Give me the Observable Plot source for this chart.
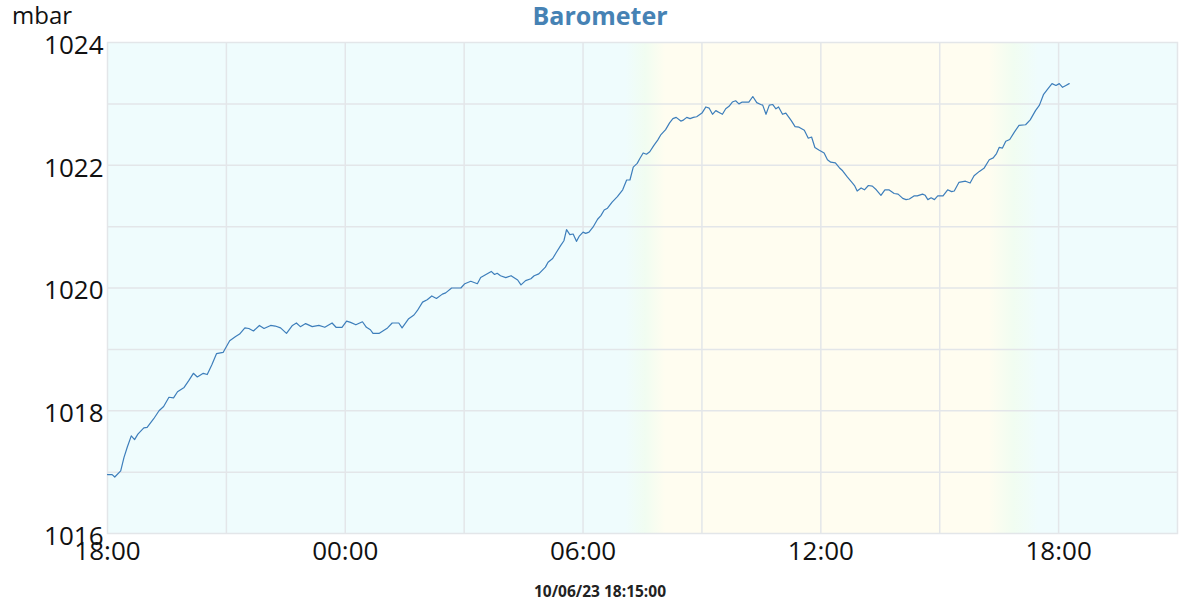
<!DOCTYPE html>
<html><head><meta charset="utf-8">
<script src="https://cdn.jsdelivr.net/npm/d3@7"></script>
<script src="https://cdn.jsdelivr.net/npm/@observablehq/plot@0.6"></script>
<style>
body{margin:0;background:#fff;font-family:"Open Sans",sans-serif;}
#wrap{position:relative;width:1200px;height:600px;overflow:hidden;}
#unit{position:absolute;left:12px;top:0;font-size:24px;line-height:30px;color:#111;}
#title{position:absolute;left:0;width:1200px;top:0;text-align:center;font-size:25px;font-weight:bold;color:#4682b4;line-height:30px;}
#caption{position:absolute;left:0;width:1200px;top:583px;text-align:center;font-size:15.5px;font-weight:bold;color:#222;line-height:16px;}
#chart svg{overflow:visible;display:block;}
</style></head>
<body>
<div id="wrap">
  <div id="chart"></div>
  <div id="unit">mbar</div>
  <div id="title">Barometer</div>
  <div id="caption">10/06/23 18:15:00</div>
</div>
<script>
// start of the time window (18:00) and readings: [minutes after start, mbar]
const startParts = [2023, 9, 5, 18, 0];
const pressure = [
[0,1016.96],[7,1016.96],[11,1016.92],[20,1017.02],[25,1017.24],[30,1017.41],[36,1017.59],[41,1017.53],[46,1017.62],[55,1017.72],
[60,1017.73],[70,1017.87],[78,1018.00],[85,1018.07],[93,1018.22],[100,1018.21],[106,1018.31],[116,1018.38],[123,1018.49],[130,1018.61],
[136,1018.55],[145,1018.61],[151,1018.59],[158,1018.75],[165,1018.93],[175,1018.95],[185,1019.14],[194,1019.21],[200,1019.25],[208,1019.35],
[214,1019.34],[221,1019.30],[230,1019.39],[237,1019.34],[247,1019.39],[254,1019.38],[262,1019.35],[271,1019.26],[280,1019.39],[286,1019.43],
[292,1019.37],[300,1019.42],[310,1019.37],[320,1019.39],[329,1019.36],[340,1019.43],[346,1019.36],[355,1019.36],[362,1019.46],[368,1019.44],
[376,1019.40],[386,1019.45],[392,1019.36],[398,1019.32],[402,1019.26],[411,1019.26],[424,1019.35],[431,1019.43],[441,1019.43],[446,1019.35],
[456,1019.50],[464,1019.56],[469,1019.63],[477,1019.77],[484,1019.81],[491,1019.87],[498,1019.83],[507,1019.90],[512,1019.92],[521,1020.00],
[535,1020.00],[541,1020.07],[550,1020.11],[560,1020.07],[565,1020.17],[573,1020.22],[581,1020.27],[586,1020.22],[590,1020.24],[595,1020.20],
[603,1020.17],[611,1020.20],[621,1020.13],[626,1020.05],[633,1020.12],[641,1020.15],[646,1020.20],[653,1020.23],[663,1020.34],[667,1020.42],
[674,1020.48],[679,1020.57],[686,1020.69],[691,1020.77],[695,1020.95],[700,1020.87],[705,1020.88],[710,1020.76],[714,1020.84],[720,1020.91],
[724,1020.89],[729,1020.91],[735,1020.99],[742,1021.12],[747,1021.18],[752,1021.27],[757,1021.30],[764,1021.40],[772,1021.49],[780,1021.60],
[786,1021.76],[791,1021.76],[796,1021.97],[802,1022.03],[806,1022.11],[811,1022.20],[816,1022.18],[821,1022.22],[827,1022.32],[833,1022.41],
[838,1022.50],[845,1022.58],[851,1022.69],[856,1022.76],[861,1022.78],[868,1022.72],[871,1022.73],[877,1022.78],[882,1022.76],[887,1022.78],
[892,1022.79],[900,1022.85],[906,1022.95],[911,1022.93],[916,1022.83],[921,1022.89],[926,1022.86],[931,1022.83],[936,1022.92],[941,1022.96],
[946,1023.03],[951,1023.05],[956,1023.00],[961,1023.03],[971,1023.03],[977,1023.12],[983,1023.02],[989,1022.99],[992,1022.98],[997,1022.83],
[1002,1022.98],[1007,1022.99],[1012,1022.92],[1016,1022.95],[1022,1022.83],[1027,1022.85],[1035,1022.73],[1041,1022.63],[1047,1022.62],[1055,1022.57],
[1061,1022.44],[1066,1022.46],[1071,1022.29],[1077,1022.25],[1085,1022.20],[1090,1022.09],[1095,1022.05],[1102,1022.04],[1108,1021.96],[1113,1021.91],
[1120,1021.81],[1128,1021.71],[1131,1021.67],[1135,1021.58],[1141,1021.63],[1146,1021.60],[1152,1021.67],[1158,1021.66],[1164,1021.60],[1171,1021.51],
[1177,1021.60],[1183,1021.60],[1191,1021.54],[1197,1021.53],[1204,1021.46],[1209,1021.44],[1214,1021.45],[1221,1021.50],[1226,1021.50],[1234,1021.53],
[1238,1021.51],[1242,1021.44],[1247,1021.47],[1252,1021.44],[1257,1021.50],[1265,1021.50],[1272,1021.60],[1278,1021.57],[1282,1021.58],[1289,1021.72],
[1299,1021.74],[1306,1021.71],[1312,1021.83],[1320,1021.90],[1327,1021.95],[1335,1022.09],[1341,1022.12],[1346,1022.19],[1350,1022.29],[1355,1022.28],
[1360,1022.39],[1366,1022.42],[1373,1022.54],[1380,1022.65],[1390,1022.66],[1397,1022.74],[1405,1022.89],[1411,1022.98],[1417,1023.15],[1424,1023.25],
[1430,1023.33],[1436,1023.30],[1441,1023.33],[1446,1023.27],[1451,1023.30],[1456,1023.33]
];
// axis window and ticks (minutes after start)
const xDomainMinutes = [0, 1620];
const xTickMinutes = [0, 360, 720, 1080, 1440];
const xGridMinutes = [180, 360, 540, 720, 900, 1080, 1260, 1440];
const yDomain = [1016, 1024];
const yTicks = [1016, 1018, 1020, 1022, 1024];
const yGrid = [1017, 1018, 1019, 1020, 1021, 1022, 1023];
// sky shading: night / twilight / day (minutes after start)
const skyMinutes = [0, 785, 815, 845, 1335, 1372, 1410, 1620];
const skyColors = ["#effcfd", "#effcfd", "#f1fdf1", "#fffdf0", "#fffdf0", "#f1fdf1", "#effcfd", "#effcfd"];

const t = m => new Date(startParts[0], startParts[1], startParts[2], startParts[3], startParts[4] + m);
const data = pressure.map(([m, v]) => ({time: t(m), mbar: v}));
const span = xDomainMinutes[1] - xDomainMinutes[0];

const skyDefs = () => {
  const g = d3.create("svg:g");
  const grad = g.append("defs").append("linearGradient")
    .attr("id", "sky").attr("x1", 0).attr("x2", 1).attr("y1", 0).attr("y2", 0);
  skyMinutes.forEach((m, i) => grad.append("stop")
    .attr("offset", (m - xDomainMinutes[0]) / span).attr("stop-color", skyColors[i]));
  return g.node();
};

const gridColor = "#e3e6e9";
const chart = Plot.plot({
  width: 1200, height: 600,
  marginLeft: 107, marginRight: 23, marginTop: 42, marginBottom: 67,
  style: {fontFamily: "Open Sans", fontSize: "26px", color: "#111", background: "transparent", overflow: "visible"},
  x: {type: "time", domain: xDomainMinutes.map(t)},
  y: {domain: yDomain},
  marks: [
    skyDefs,
    Plot.rect([{a: t(xDomainMinutes[0]), b: t(xDomainMinutes[1])}], {x1: "a", x2: "b", fill: "url(#sky)"}),
    Plot.ruleX(xGridMinutes.map(t), {stroke: gridColor, strokeWidth: 1.5}),
    Plot.ruleY(yGrid, {stroke: gridColor, strokeWidth: 1.5}),
    Plot.frame({stroke: gridColor, strokeWidth: 1.5}),
    Plot.line(data, {x: "time", y: "mbar", stroke: "#3d7ebb", strokeWidth: 1.2}),
    Plot.axisX(xTickMinutes.map(t), {tickFormat: d3.timeFormat("%H:%M"), tickSize: 0, tickPadding: 8, label: null, fontSize: 26}),
    Plot.axisY(yTicks, {tickFormat: d => String(d), tickSize: 0, tickPadding: 4, label: null, fontSize: 26, dy: 3})
  ]
});
document.getElementById("chart").appendChild(chart);
</script>
</body></html>
